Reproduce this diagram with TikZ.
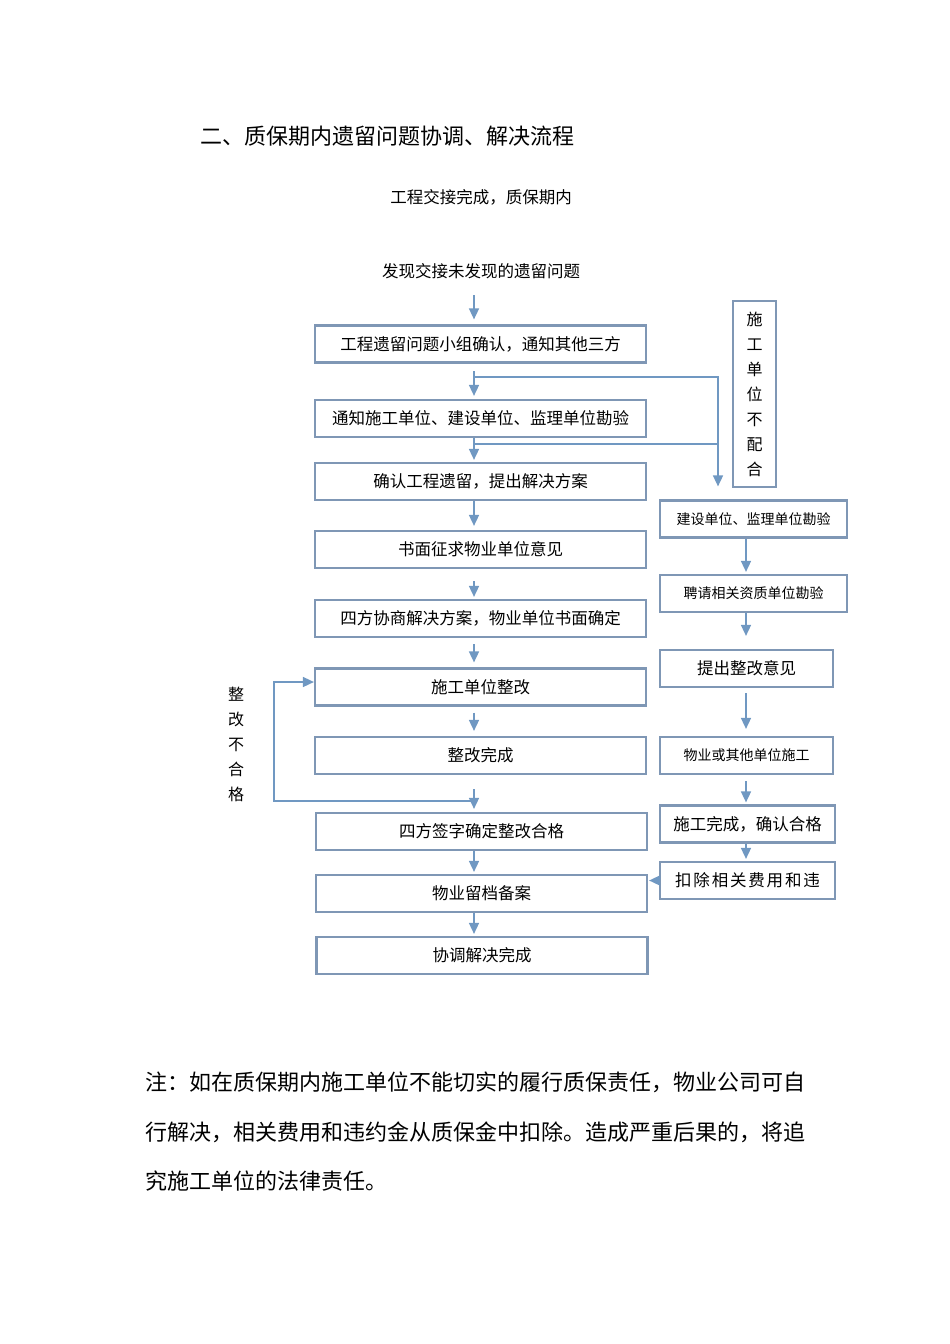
\documentclass[tikz,border=0pt]{standalone}
\usepackage{fontspec}
\newfontfamily\cjk{Noto Sans CJK SC}
\usetikzlibrary{arrows.meta,calc}
\definecolor{boxline}{HTML}{7F97B5}
\definecolor{arrline}{HTML}{7098C2}

\begin{document}
\begin{tikzpicture}[x=1pt,y=-1pt,
        font=\cjk,
        boxsty/.style={
            draw=boxline, line width=2.2pt, inner sep=0pt,
            minimum width=331pt, minimum height=37pt,
            font=\cjk\fontsize{16.5}{20}\selectfont,
        },
        rboxsty/.style={
            boxsty, minimum width=#1,
        },
        smallsty/.style={
            font=\cjk\fontsize{14}{18}\selectfont
        },
        colsty/.style={
            align=center, inner sep=0pt,
            font=\cjk\fontsize{16}{25}\selectfont
        },
        arrsty/.style={
            arrline, line width=1.6pt, -{Triangle[width=10pt,length=11pt]}
        },
        linesty/.style={
            arrline, line width=1.6pt
        }
    ]
    \useasboundingbox (0,0) rectangle (950,1344);

    \node[anchor=west, inner sep=0pt, font=\cjk\fontsize{22}{26}\selectfont] at (200,136) (title) {二、质保期内遗留问题协调、解决流程};
    \node[font=\cjk\fontsize{16.5}{20}\selectfont] at (481,197) (handover) {工程交接完成，质保期内};
    \node[font=\cjk\fontsize{16.5}{20}\selectfont] at (481,271) (start) {发现交接未发现的遗留问题};

    % main column
    \node[boxsty] at (480.5,344) (confirm) {工程遗留问题小组确认，通知其他三方};
    \node[boxsty] at (480.5,418.5) (notify) {通知施工单位、建设单位、监理单位勘验};
    \node[boxsty] at (480.5,481.5) (plan) {确认工程遗留，提出解决方案};
    \node[boxsty] at (480.5,549.5) (opinion) {书面征求物业单位意见};
    \node[boxsty] at (480.5,618.5) (consult) {四方协商解决方案，物业单位书面确定};
    \node[boxsty] at (480.5,687) (fix) {施工单位整改};
    \node[boxsty] at (480.5,755.5) (fixdone) {整改完成};
    \node[boxsty] at (481.5,831.5) (sign) {四方签字确定整改合格};
    \node[boxsty] at (481.5,893.5) (archive) {物业留档备案};
    \node[boxsty] at (482,955.5) (finish) {协调解决完成};

    % right column
    \node[draw=boxline, line width=2.2pt, minimum width=43pt, minimum height=186pt, colsty] at (754.5,394) (refuse) {施\\工\\单\\位\\不\\配\\合};
    \node[rboxsty=187pt, smallsty] at (753.5,519) (survey) {建设单位、监理单位勘验};
    \node[rboxsty=187pt, smallsty] at (753.5,593.5) (hire) {聘请相关资质单位勘验};
    \node[rboxsty=173pt] at (746.5,668.5) (advice) {提出整改意见};
    \node[rboxsty=173pt, smallsty] at (746.5,755.5) (other) {物业或其他单位施工};
    \node[rboxsty=175pt] at (747.5,824) (done) {施工完成，确认合格};
    \node[rboxsty=175pt] at (747.5,880.5) (deduct) {\addfontfeature{LetterSpace=11}扣除相关费用和违};

    \node[colsty] at (236,744) (nofit) {整\\改\\不\\合\\格};

    \node[anchor=west, align=left, inner sep=0pt, font=\cjk\fontsize{22}{49.5}\selectfont] at (145,1132) (note) {注：如在质保期内施工单位不能切实的履行质保责任，物业公司可自\\行解决，相关费用和违约金从质保金中扣除。造成严重后果的，将追\\究施工单位的法律责任。};

    \coordinate (spine) at (474,0);
    \coordinate (rspine) at (746,0);
    \coordinate (rbranch) at (718,0);
    \coordinate (loopl) at (274,0);

    \draw[arrsty, shorten <=13pt, shorten >=5pt] (start.south -| spine) -- (confirm.north -| spine);
    \draw[arrsty, shorten <=7.5pt, shorten >=3pt] (confirm.south -| spine) -- (notify.north -| spine);
    \draw[arrsty, shorten >=2pt] (notify.south -| spine) -- (plan.north -| spine);
    \draw[arrsty, shorten >=4pt] (plan.south -| spine) -- (opinion.north -| spine);
    \draw[arrsty, shorten <=12pt, shorten >=2pt] (opinion.south -| spine) -- (consult.north -| spine);
    \draw[arrsty, shorten <=6pt, shorten >=5pt] (consult.south -| spine) -- (fix.north -| spine);
    \draw[arrsty, shorten <=6pt, shorten >=5pt] (fix.south -| spine) -- (fixdone.north -| spine);
    \draw[arrsty, shorten <=14pt, shorten >=3pt] (fixdone.south -| spine) -- (sign.north -| spine);
    \draw[arrsty, shorten >=2pt] (sign.south -| spine) -- (archive.north -| spine);
    \draw[arrsty, shorten >=2pt] (archive.south -| spine) -- (finish.north -| spine);

    % branches to the right column
    \draw[arrsty, shorten >=13pt] ($(confirm.south -| spine)+(0,13.5)$) -| (survey.north -| rbranch);
    \draw[linesty] ($(notify.south -| spine)+(0,6)$) -- ($(notify.south -| rbranch)+(0,6)$);

    \draw[arrsty, shorten >=2pt] (survey.south -| rspine) -- (hire.north -| rspine);
    \draw[arrsty, shorten >=13pt] (hire.south -| rspine) -- (advice.north -| rspine);
    \draw[arrsty, shorten <=5pt, shorten >=7pt] (advice.south -| rspine) -- (other.north -| rspine);
    \draw[arrsty, shorten <=6pt, shorten >=2pt] (other.south -| rspine) -- (done.north -| rspine);
    \draw[arrsty, shorten >=2pt] (done.south -| rspine) -- (deduct.north -| rspine);
    \draw[arrsty, shorten >=1pt] (deduct.west) -- (deduct.west -| archive.east);

    % loop back when not accepted
    \draw[arrsty] ($(fixdone.south -| spine)+(0,26)$) -| ($(fix.west -| loopl)+(0,-5)$) -- ($(fix.west)+(0,-5)$);
\end{tikzpicture}
\end{document}
